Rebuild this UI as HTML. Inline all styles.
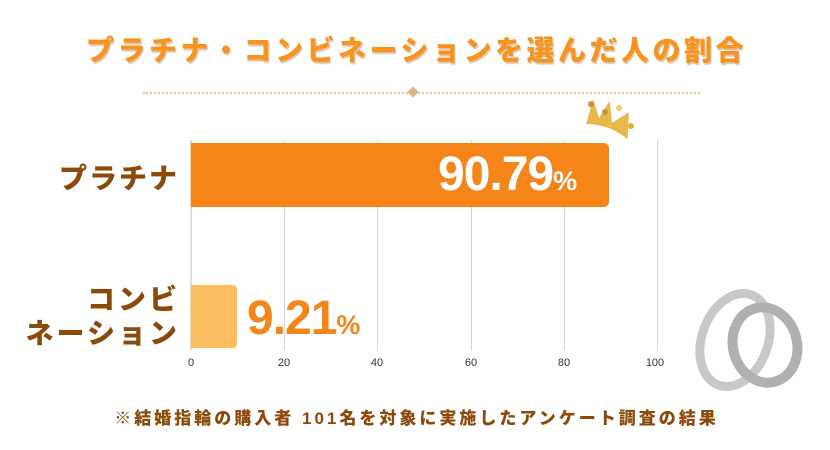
<!DOCTYPE html>
<html><head><meta charset="utf-8"><style>
body{margin:0;width:830px;height:450px;background:#fff;position:relative;overflow:hidden;font-family:"Liberation Sans","Noto Sans CJK JP",sans-serif}
.a{position:absolute}
</style></head><body>
<div class="a" style="left:0;width:833px;top:29px;text-align:center;font-size:28px;font-weight:900;color:#f7931e;letter-spacing:3.5px;text-shadow:1px 2px 1px rgba(150,90,20,.35)">プラチナ・コンビネーションを選んだ人の割合</div>
<div class="a" style="left:143px;top:92px;width:557px;border-top:2px dotted #e8c49a"></div>
<div class="a" style="left:409px;top:88px;width:8px;height:8px;background:#e0b585;transform:rotate(45deg)"></div>
<svg class="a" style="left:0;top:0" width="830" height="450">
<g stroke="#d6d6d6" stroke-width="1">
<line x1="284.5" y1="140" x2="284.5" y2="350"/><line x1="377.5" y1="140" x2="377.5" y2="350"/><line x1="471.5" y1="140" x2="471.5" y2="350"/><line x1="564.5" y1="140" x2="564.5" y2="350"/><line x1="657.5" y1="140" x2="657.5" y2="350"/></g>
<line x1="191" y1="140" x2="191" y2="350" stroke="#bbb"/>
<path d="M191 143H604a5 5 0 0 1 5 5V202a5 5 0 0 1-5 5H191Z" fill="#f68519"/>
<path d="M191 285H233a4 4 0 0 1 4 4V344a4 4 0 0 1-4 4H191Z" fill="#fdbe5f"/>
<g font-family="Liberation Sans,sans-serif" font-size="11" fill="#333" text-anchor="middle">
<text x="191" y="366">0</text><text x="284" y="366">20</text><text x="377" y="366">40</text><text x="471" y="366">60</text><text x="564" y="366">80</text><text x="655" y="366">100</text></g>
<g transform="translate(585,100)">
<path d="M4 32 L2 6 L14 22 L18 2 L28 22 L40 6 L48 32 Q25 24 4 32Z" fill="#e8b84a" transform="rotate(20 25 20)"/>
<circle cx="6" cy="4" r="3" fill="#c8923a"/><circle cx="20" cy="12" r="3" fill="#c8923a"/><circle cx="34" cy="8" r="3" fill="#f5d060"/><circle cx="46" cy="26" r="3" fill="#e0b040"/>
</g>
<g fill="none">
<ellipse cx="735" cy="340" rx="33" ry="48" stroke="#c8c8c8" stroke-width="9" transform="rotate(20 735 340)"/>
<ellipse cx="765" cy="345" rx="32" ry="38" stroke="#b0b0b0" stroke-width="10" transform="rotate(-15 765 345)"/>
</g>
</svg>
<div class="a" style="left:438px;top:147px;font-size:48px;font-weight:bold;color:#fff;letter-spacing:-1px">90.79<span style="font-size:27px;letter-spacing:0">%</span></div>
<div class="a" style="left:247px;top:291px;font-size:48px;font-weight:bold;color:#f68519;letter-spacing:-1px">9.21<span style="font-size:27px;letter-spacing:0">%</span></div>
<div class="a" style="left:30px;top:157px;width:149px;text-align:right;font-size:28px;font-weight:900;color:#8b4a0a;letter-spacing:2px">プラチナ</div>
<div class="a" style="left:0px;top:283px;width:180px;text-align:right;font-size:28px;font-weight:900;color:#8b4a0a;letter-spacing:3px;line-height:34px">コンビ<br>ネーション</div>
<div class="a" style="left:0;width:833px;top:404px;text-align:center;font-size:17px;font-weight:900;color:#8b4a0a;letter-spacing:3px">※結婚指輪の購入者 101名を対象に実施したアンケート調査の結果</div>
</body></html>
